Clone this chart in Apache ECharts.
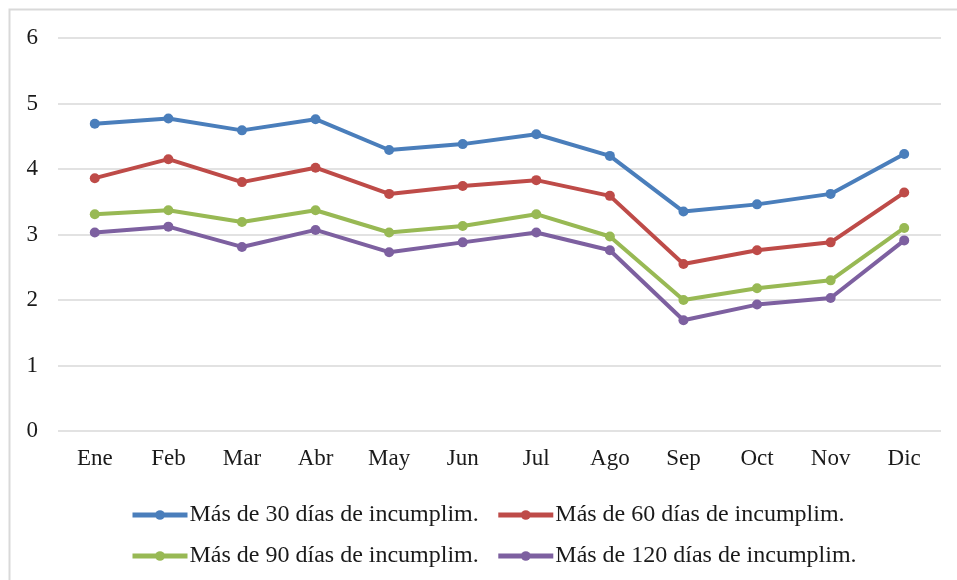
<!DOCTYPE html>
<html>
<head>
<meta charset="utf-8">
<script src="https://cdn.jsdelivr.net/npm/echarts@6/dist/echarts.min.js"></script>
<style>
  html, body { margin: 0; padding: 0; background: #fff; }
  #chart { width: 957px; height: 580px; }
</style>
</head>
<body>
<div id="chart"></div>
<script>
let months = ['Ene', 'Feb', 'Mar', 'Abr', 'May', 'Jun', 'Jul', 'Ago', 'Sep', 'Oct', 'Nov', 'Dic'];
let names = [
    'Más de 30 días de incumplim.',
    'Más de 60 días de incumplim.',
    'Más de 90 días de incumplim.',
    'Más de 120 días de incumplim.'
];
let mas30 = [4.69, 4.77, 4.59, 4.76, 4.29, 4.38, 4.53, 4.20, 3.35, 3.46, 3.62, 4.23];
let mas60 = [3.86, 4.15, 3.80, 4.02, 3.62, 3.74, 3.83, 3.59, 2.55, 2.76, 2.88, 3.64];
let mas90 = [3.31, 3.37, 3.19, 3.37, 3.03, 3.13, 3.31, 2.97, 2.00, 2.18, 2.30, 3.10];
let mas120 = [3.03, 3.12, 2.81, 3.07, 2.73, 2.88, 3.03, 2.76, 1.69, 1.93, 2.03, 2.91];
let colors = ['#4a7ebb', '#be4b48', '#98b954', '#7d60a0'];

let font = '"Liberation Serif", "Times New Roman", serif';

function makeSeries(name, data, color) {
    return {
        name: name,
        type: 'line',
        data: data,
        symbol: 'circle',
        symbolSize: 10,
        lineStyle: { width: 4, color: color },
        itemStyle: { color: color },
        animation: false
    };
}

let legendBase = {
    left: 125,
    itemGap: 17,
    itemWidth: 55,
    itemHeight: 12,
    lineStyle: { width: 5 },
    textStyle: { fontFamily: font, fontSize: 24, color: '#1a1a1a', padding: [0, 0, 0, -3] }
};

option = {
    backgroundColor: '#fff',
    color: colors,
    graphic: [{
        type: 'rect',
        shape: { x: 9.5, y: 9.5, width: 1000, height: 700 },
        style: { fill: 'none', stroke: '#d9d9d9', lineWidth: 2 },
        silent: true
    }],
    grid: { left: 58, right: 16, top: 38, bottom: 149 },
    legend: [
        Object.assign({ top: 498, data: [names[0], names[1]] }, legendBase),
        Object.assign({ top: 539, data: [names[2], names[3]] }, legendBase)
    ],
    xAxis: {
        type: 'category',
        data: months,
        boundaryGap: true,
        axisLine: { show: false },
        axisTick: { show: false },
        axisLabel: { fontFamily: font, fontSize: 23, color: '#1a1a1a', margin: 16 }
    },
    yAxis: {
        type: 'value',
        min: 0,
        max: 6,
        interval: 1,
        axisLine: { show: false },
        axisTick: { show: false },
        axisLabel: { fontFamily: font, fontSize: 23, color: '#1a1a1a', margin: 20 },
        splitLine: { lineStyle: { color: '#d9d9d9', width: 1.5 } }
    },
    series: [
        makeSeries(names[0], mas30, colors[0]),
        makeSeries(names[1], mas60, colors[1]),
        makeSeries(names[2], mas90, colors[2]),
        makeSeries(names[3], mas120, colors[3])
    ]
};

let myChart = echarts.init(document.getElementById('chart'));
myChart.setOption(option);
</script>
</body>
</html>
